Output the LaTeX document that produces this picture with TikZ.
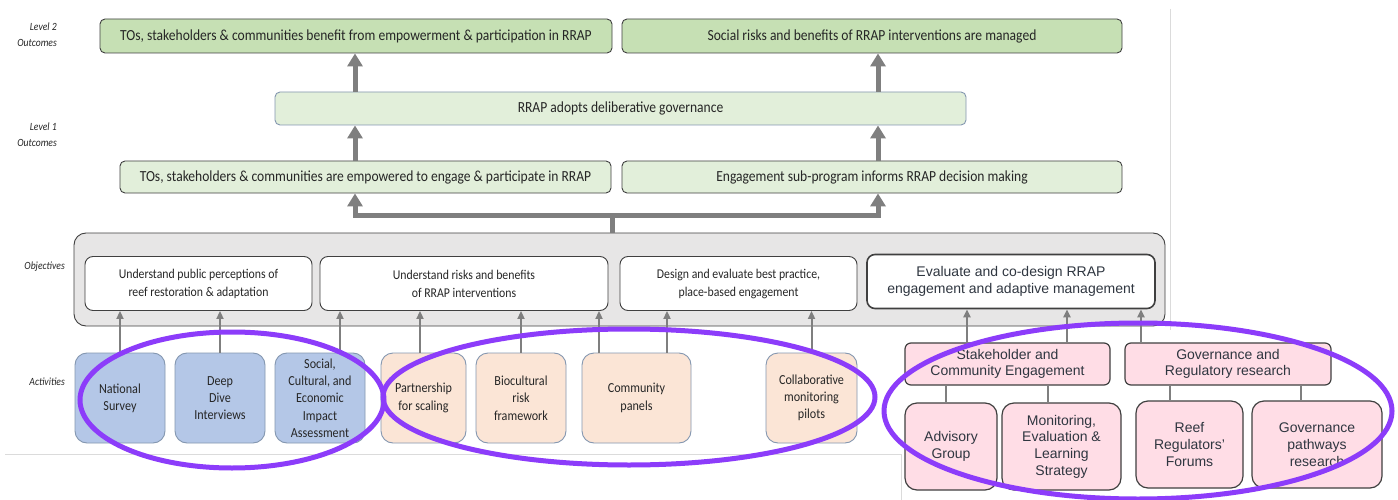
\documentclass[tikz,border=0pt]{standalone}
\usepackage{fontspec}
\setmainfont{Carlito}[FakeStretch=0.88]
\newfontfamily\arialfont{Liberation Sans}
\usetikzlibrary{arrows.meta}

\definecolor{greenLtwo}{HTML}{C6E0B4}
\definecolor{greenLone}{HTML}{E2EFDA}
\definecolor{objgray}{HTML}{E7E6E6}
\definecolor{actblue}{HTML}{B4C7E7}
\definecolor{actpeach}{HTML}{FBE5D6}
\definecolor{actpink}{HTML}{FFDDE6}
\definecolor{framegray}{HTML}{404040}
\definecolor{bluegray}{HTML}{8497B0}
\definecolor{arrgray}{HTML}{7F7F7F}
\definecolor{ringpurple}{HTML}{8C3CFA}
\definecolor{txtdark}{HTML}{262626}
\definecolor{pinktxt}{HTML}{2F3640}

\tikzset{
  box/.style={draw=framegray, line width=0.9pt, text=txtdark, inner sep=0pt, align=center},
  outtwo/.style={box, fill=greenLtwo, rounded corners=5pt, minimum height=34pt, font=\fontsize{15.4}{18}\selectfont},
  outone/.style={box, fill=greenLone, rounded corners=5pt, minimum height=32pt, font=\fontsize{15.4}{18}\selectfont},
  objbox/.style={box, fill=white, rounded corners=8pt, minimum height=54pt, font=\fontsize{13.4}{18}\selectfont},
  actbox/.style={box, draw=bluegray, rounded corners=12pt, minimum height=90pt, font=\fontsize{13.8}{17.3}\selectfont},
  pinkhead/.style={box, fill=actpink, line width=1.2pt, rounded corners=6pt, minimum height=42pt, text=pinktxt, font=\arialfont\fontsize{14}{16.7}\selectfont},
  pinkbox/.style={pinkhead, rounded corners=12pt, minimum height=87pt},
  sidelabel/.style={anchor=east, align=right, inner sep=0pt, text=txtdark, font=\itshape\fontsize{11}{16}\selectfont},
  bigarr/.style={draw=arrgray, line width=5pt, -{Triangle[width=15pt,length=13pt]}},
  bigline/.style={draw=arrgray, line width=5pt},
  smallarr/.style={draw=arrgray, line width=2pt, -{Triangle[width=7pt,length=8pt]}},
  link/.style={draw=arrgray, line width=2pt},
  ring/.style={draw=ringpurple, line width=5pt},
  faint/.style={draw=black!14, line width=0.8pt}
}

\begin{document}
\begin{tikzpicture}[x=1pt,y=-1pt]
  \fill[white](0,0)rectangle(1398,500);
  \useasboundingbox(0,0)rectangle(1398,500);
  \draw[faint](5,454)--(901,454)--(901,500);
  \draw[faint](1170,9)--(1170,330);
  \coordinate(colL)at(355,0);
  \coordinate(colR)at(878,0);
  \coordinate(fork)at(612,215);

  \node[sidelabel](labtwo)at(57,35){Level 2\\Outcomes};
  \node[sidelabel](labone)at(57,135){Level 1\\Outcomes};
  \node[sidelabel](labobj)at(65,267){Objectives};
  \node[sidelabel](labact)at(65,382){Activities};

  \node[outtwo,minimum width=512pt](l2a)at(356,36){TOs, stakeholders \& communities benefit from empowerment \& participation in RRAP};
  \node[outtwo,minimum width=500pt](l2b)at(872,36){Social risks and benefits of RRAP interventions are managed};
  \node[outone,draw=bluegray,minimum width=691pt,minimum height=33pt](gov)at(620.5,108.5){RRAP adopts deliberative governance};
  \node[outone,minimum width=491pt](l1a)at(365.5,177){TOs, stakeholders \& communities are empowered to engage \& participate in RRAP};
  \node[outone,minimum width=500pt](l1b)at(872,177){Engagement sub-program informs RRAP decision making};

  \node[box,fill=objgray,rounded corners=12pt,minimum width=1091pt,minimum height=93pt](objs)at(619.5,279.5){};
  \node[objbox,minimum width=227pt](o1)at(198.5,283.5){Understand public perceptions of\\reef restoration \& adaptation};
  \node[objbox,minimum width=288pt](o2)at(464,283.5){Understand risks and benefits\\of RRAP interventions};
  \node[objbox,minimum width=237pt](o3)at(738.5,283.5){Design and evaluate best practice,\\place-based engagement};
  \node[objbox,minimum width=288pt,line width=1.6pt,text=pinktxt,font=\arialfont\fontsize{14}{16.7}\selectfont](o4)at(1011,281.5){Evaluate and co-design RRAP\\engagement and adaptive management};

  \node[actbox,fill=actblue,minimum width=90pt](ns)at(120,398){National\\Survey};
  \node[actbox,fill=actblue,minimum width=90pt](dd)at(220,398){Deep\\Dive\\Interviews};
  \node[actbox,fill=actblue,minimum width=90pt](sc)at(320,398){Social,\\Cultural, and\\Economic\\Impact\\Assessment};
  \node[actbox,fill=actpeach,minimum width=85pt](ps)at(423.5,398){Partnership\\for scaling};
  \node[actbox,fill=actpeach,minimum width=90pt](bc)at(521,398){Biocultural\\risk\\framework};
  \node[actbox,fill=actpeach,minimum width=109pt](cp)at(636.5,398){Community\\panels};
  \node[actbox,fill=actpeach,minimum width=91pt](cm)at(811.5,398){Collaborative\\monitoring\\pilots};

  \node[pinkhead,minimum width=205pt](sce)at(1007.5,364){Stakeholder and\\Community Engagement};
  \node[pinkhead,minimum width=206pt](grr)at(1228,364){Governance and\\Regulatory research};
  \node[pinkbox,minimum width=92pt](ag)at(951,446.5){Advisory\\Group};
  \node[pinkbox,minimum width=119pt](mel)at(1061.5,446.5){Monitoring,\\Evaluation \&\\Learning\\Strategy};
  \node[pinkbox,minimum width=107pt](rrf)at(1189.5,444.5){Reef\\Regulators’\\Forums};
  \node[pinkbox,minimum width=130pt](gpr)at(1317,444.5){Governance\\pathways\\research};

  \draw[bigarr](l1a.north -| colL)--(gov.south -| colL);
  \draw[bigarr](gov.north -| colL)--(l2a.south -| colL);
  \draw[bigarr](l1b.north -| colR)--(gov.south -| colR);
  \draw[bigarr](gov.north -| colR)--(l2b.south -| colR);
  \draw[bigline](objs.north -| fork)--(fork);
  \draw[bigarr](fork)-|(l1a.south -| colL);
  \draw[bigarr](fork)-|(l1b.south -| colR);

  \draw[smallarr](ns.north)--(ns.north |- o1.south);
  \draw[smallarr](dd.north)--(dd.north |- o1.south);
  \draw[smallarr](340,0 |- sc.north)--(340,0 |- o2.south);
  \draw[smallarr](420,0 |- ps.north)--(420,0 |- o2.south);
  \draw[smallarr](bc.north)--(bc.north |- o2.south);
  \draw[smallarr](599,0 |- cp.north)--(599,0 |- o2.south);
  \draw[smallarr](667,0 |- cp.north)--(667,0 |- o3.south);
  \draw[smallarr](cm.north)--(cm.north |- o3.south);
  \draw[smallarr](967,0 |- sce.north)--(967,0 |- o4.south);
  \draw[smallarr](1067,0 |- sce.north)--(1067,0 |- o4.south);
  \draw[smallarr](1141,0 |- grr.north)--(1141,0 |- o4.south);

  \draw[link](946,0 |- sce.south)--(946,0 |- ag.north);
  \draw[link](1048,0 |- sce.south)--(1048,0 |- mel.north);
  \draw[link](1170,0 |- grr.south)--(1170,0 |- rrf.north);
  \draw[link](1301,0 |- grr.south)--(1301,0 |- gpr.north);

  \draw[ring](232,400)ellipse[x radius=152pt,y radius=68pt];
  \draw[ring](629,397)ellipse[x radius=246pt,y radius=68pt];
  \draw[ring](1138,411)ellipse[x radius=254pt,y radius=88pt];
\end{tikzpicture}
\end{document}
